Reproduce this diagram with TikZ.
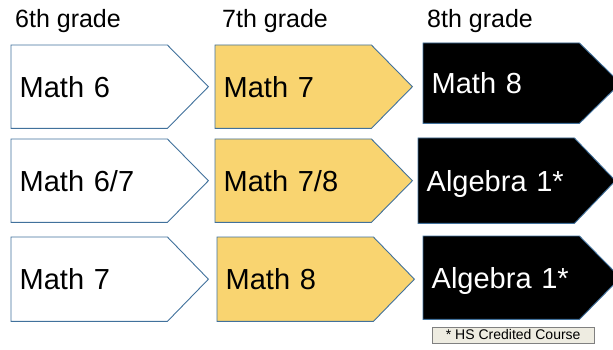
\documentclass[tikz,border=0pt]{standalone}
\usepackage{fontspec}
\setmainfont{Liberation Sans}
\usetikzlibrary{backgrounds}
\definecolor{edgeblue}{RGB}{65,113,156}
\definecolor{courseyellow}{RGB}{249,212,112}
\definecolor{notefill}{RGB}{238,236,225}
\tikzset{
  grade/.style={anchor=base west, inner sep=0pt, font=\fontsize{25}{28}\selectfont},
  course/.style={anchor=north west, text width=139pt, align=left, inner xsep=8.5pt,
    inner ysep=0pt, minimum height=83pt, text height=21pt, text depth=0pt,
    font=\fontsize{29}{32}\selectfont},
  whitearrow/.style={draw=edgeblue, fill=white, line width=0.9pt},
  yellowarrow/.style={draw=edgeblue, fill=courseyellow, line width=0.9pt},
  blackarrow/.style={draw=edgeblue, fill=black, line width=0.9pt},
}
\begin{document}
\begin{tikzpicture}[x=1pt,y=-1pt]
    \useasboundingbox (0,0) rectangle (613,350);
    \clip (0,0) rectangle (613,350);
    % Grades
    \node[grade] (g6) at (15,28) {6th grade};
    \node[grade] (g7) at (222,28) {7th grade};
    \node[grade] (g8) at (427,28) {8th grade};
    % 6th grade
    \node[course] (a1) at (11,45) {Math 6};
    \node[course] (a2) at (11,139) {Math 6/7};
    \node[course, minimum height=84pt] (a3) at (11,237) {Math 7};
    % 7th grade
    \node[course] (b1) at (215,45) {Math 7};
    \node[course] (b2) at (215,139) {Math 7/8};
    \node[course, minimum height=84pt] (b3) at (217,237) {Math 8};
    % 8th grade
    \node[course, text=white, minimum height=80pt] (c1) at (423,43) {Math 8};
    \node[course, text=white, minimum height=85pt] (c2) at (418,138) {Algebra 1*};
    \node[course, text=white] (c3) at (423,236) {Algebra 1*};
    % Note
    \node[draw=gray, fill=notefill, anchor=north west, minimum width=162pt,
      minimum height=15.5pt, inner sep=0pt, font=\fontsize{14}{15}\selectfont]
      (note) at (432,327) {* HS Credited Course};
    % Arrow outlines
    \begin{scope}[on background layer]
        \foreach \n/\s in {a1/whitearrow,a2/whitearrow,a3/whitearrow,
                           b1/yellowarrow,b2/yellowarrow,b3/yellowarrow,
                           c1/blackarrow,c2/blackarrow,c3/blackarrow} {
            \draw[\s] (\n.north west) -- (\n.north east) -- ([xshift=41pt]\n.east)
                -- (\n.south east) -- (\n.south west) -- cycle;
        }
    \end{scope}
\end{tikzpicture}
\end{document}
